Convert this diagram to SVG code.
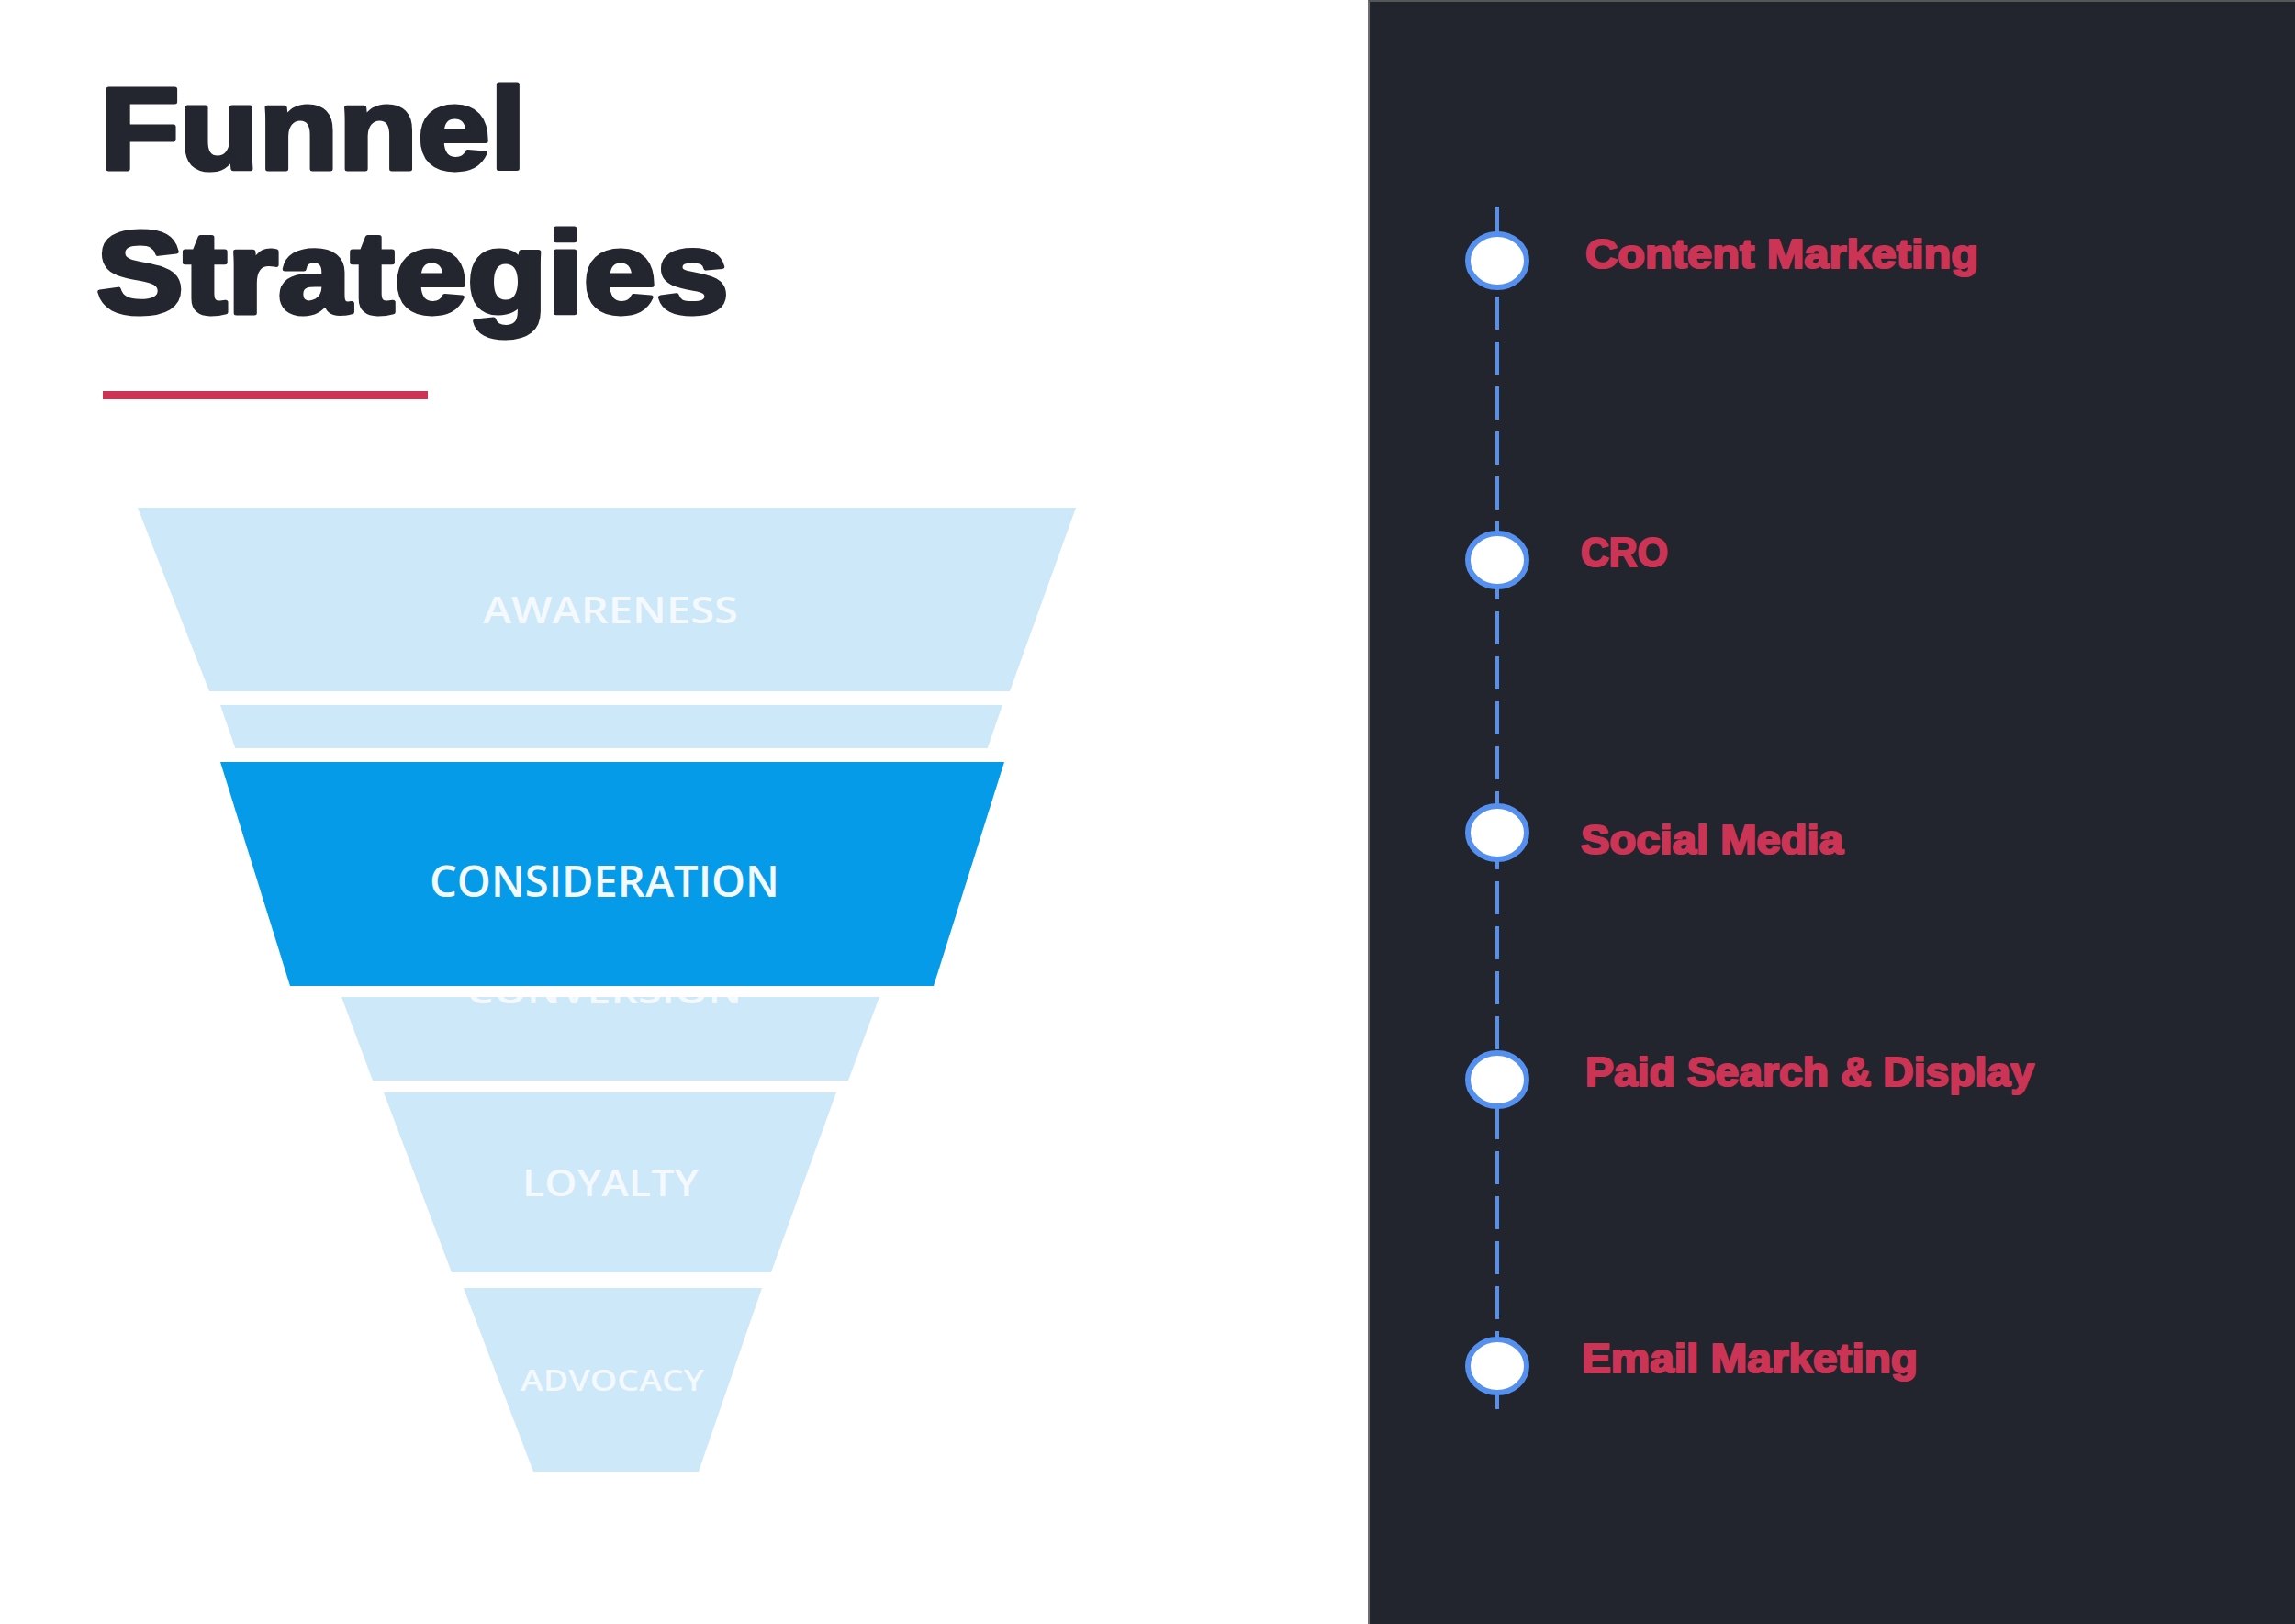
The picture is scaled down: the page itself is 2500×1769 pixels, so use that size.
<svg xmlns="http://www.w3.org/2000/svg" width="2500" height="1769" viewBox="0 0 2500 1769">
<style>
.title{font-family:"Liberation Sans",Arial,sans-serif;font-weight:bold;font-size:127px;fill:#23252f;stroke:#23252f;stroke-width:5px;stroke-linejoin:round}
.band{fill:#cde8f9}
.blbl{font-family:"Open Sans","Liberation Sans",sans-serif;font-weight:600;fill:#f3f9fe}
.item{font-family:"Liberation Sans",Arial,sans-serif;font-weight:bold;font-size:44px;fill:#cc3456;stroke:#cc3456;stroke-width:2.2px;stroke-linejoin:round}
.dot{fill:#ffffff;stroke:#5590ee;stroke-width:6}
</style>
<rect x="0" y="0" width="2500" height="1769" fill="#ffffff"/>

<g id="title">
<text class="title" x="109" y="184" textLength="464" lengthAdjust="spacingAndGlyphs">Funnel</text>
<text class="title" x="105" y="341" textLength="689" lengthAdjust="spacingAndGlyphs">Strategies</text>
<rect x="112" y="426" width="354" height="9" fill="#cc3456"/>
</g>

<g id="funnel">
<g id="awareness">
<polygon class="band" points="150,553 1172,553 1100,753 228,753"/>
<text class="blbl" x="526" y="679" font-size="39" textLength="278" lengthAdjust="spacingAndGlyphs">AWARENESS</text>
</g>
<g id="interest">
<polygon class="band" points="240,768 1092,768 1060,860 272,860"/>
</g>
<g id="conversion">
<polygon class="band" points="340,1000 990,1000 924,1177 406,1177"/>
<text class="blbl" x="508" y="1093" font-size="40" textLength="300" lengthAdjust="spacingAndGlyphs">CONVERSION</text>
</g>
<rect x="218" y="815" width="909" height="271" fill="#ffffff"/>
<g id="consideration">
<polygon points="240,830 1094,830 1017,1074 316,1074" fill="#069be8"/>
<text class="blbl" x="468" y="977" font-size="47" fill="#f4fbff" textLength="381" lengthAdjust="spacingAndGlyphs">CONSIDERATION</text>
</g>
<g id="loyalty">
<polygon class="band" points="418,1190 911,1190 840,1386 492,1386"/>
<text class="blbl" x="569" y="1303" font-size="40" textLength="192" lengthAdjust="spacingAndGlyphs">LOYALTY</text>
</g>
<g id="advocacy">
<polygon class="band" points="505,1403 830,1403 761,1603 581,1603"/>
<text class="blbl" x="567" y="1515" font-size="32" textLength="200" lengthAdjust="spacingAndGlyphs">ADVOCACY</text>
</g>
</g>

<g id="panel">
<rect x="1491" y="0" width="1009" height="1769" fill="#22242e"/>
<line x1="1491" y1="0" x2="1491" y2="1769" stroke="#6e6e70" stroke-width="2"/>
<line x1="1491" y1="1" x2="2500" y2="1" stroke="#55565a" stroke-width="2"/>
</g>

<g id="connectors">
<line x1="1631" y1="225" x2="1631" y2="1536" stroke="#5590ee" stroke-width="4" stroke-dasharray="36 13"/>
</g>

<g id="node-content">
<ellipse class="dot" cx="1631" cy="284" rx="32" ry="29"/>
<text class="item" x="1727" y="292" textLength="428" lengthAdjust="spacingAndGlyphs">Content Marketing</text>
</g>
<g id="node-cro">
<ellipse class="dot" cx="1631" cy="610" rx="32" ry="29"/>
<text class="item" x="1722" y="617" textLength="95" lengthAdjust="spacingAndGlyphs">CRO</text>
</g>
<g id="node-social">
<ellipse class="dot" cx="1631" cy="907" rx="32" ry="29"/>
<text class="item" x="1722" y="930" textLength="286" lengthAdjust="spacingAndGlyphs">Social Media</text>
</g>
<g id="node-paid">
<ellipse class="dot" cx="1631" cy="1176" rx="32" ry="29"/>
<text class="item" x="1727" y="1183" textLength="489" lengthAdjust="spacingAndGlyphs">Paid Search &amp; Display</text>
</g>
<g id="node-email">
<ellipse class="dot" cx="1631" cy="1488" rx="32" ry="29"/>
<text class="item" x="1723" y="1495" textLength="366" lengthAdjust="spacingAndGlyphs">Email Marketing</text>
</g>
</svg>
